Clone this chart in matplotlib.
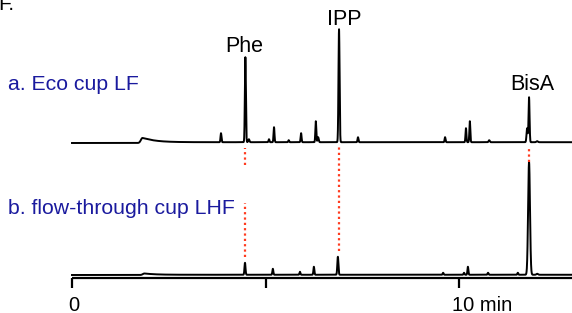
import numpy as np
import matplotlib.pyplot as plt

plt.rcParams['font.family'] = ['Liberation Sans', 'DejaVu Sans']

# retention times (min), peak heights (arbitrary, px-like units), widths (min)
a_times = [3.85, 4.48, 4.57, 5.09, 5.22, 5.60, 5.92, 6.30, 6.36, 6.90, 7.39, 9.64, 10.18, 10.28, 10.78, 11.76, 11.81, 12.02]
a_heights = [9, 85, 3, 3, 15, 2, 9, 21, 5, 113, 5, 5, 14, 21, 2, 14, 45, 1]
a_widths = [0.012, 0.013, 0.015, 0.012, 0.012, 0.012, 0.012, 0.012, 0.015, 0.014, 0.012, 0.012, 0.012, 0.012, 0.015, 0.015, 0.013, 0.02]

b_times = [4.47, 5.19, 5.89, 6.25, 6.87, 9.59, 10.13, 10.23, 10.75, 11.52, 11.81, 12.02]
b_heights = [12, 6, 3, 8, 18, 2, 2, 8, 2, 2, 113, 1]
b_widths = [0.013, 0.012, 0.012, 0.012, 0.014, 0.012, 0.012, 0.012, 0.012, 0.012, 0.024, 0.02]

# solvent hump near 1.8 min
a_hump = (1.82, 5.0, 0.3)   # time, height, decay
b_hump = (1.87, 1.5, 0.25)

labeled = ['Phe', 'IPP', 'BisA']
labeled_times = [4.48, 6.90, 11.81]
trace_names = ['a. Eco cup LF', 'b. flow-through cup LHF']
tick_times = [0, 5, 10]
tick_labels = ['0', '', '10 min']

t = np.linspace(0, 12.92, 6000)
px = 1 / 38.7  # one pixel in minutes


def trace(times, heights, widths, hump):
    y = np.zeros_like(t)
    for tm, h, w in zip(times, heights, widths):
        y += h * np.exp(-0.5 * ((t - tm) / w) ** 2)
    t0, h0, tau = hump
    rise = np.exp(-0.5 * ((t - t0) / 0.04) ** 2)
    tail = np.where(t > t0, np.exp(-(t - t0) / tau), 0)
    y += h0 * np.maximum(rise, tail) + np.where(t > t0, 0.8 * h0 / 5, 0) * (1 - np.exp(-(t - t0).clip(0) / 0.1))
    return y


ya = trace(a_times, a_heights, a_widths, a_hump)
yb = trace(b_times, b_heights, b_widths, b_hump)

fig = plt.figure(figsize=(5.72, 3.13), dpi=100)
ax = fig.add_axes([0, 0, 1, 1])
ax.set_xlim(-72 * px, 500 * px)
ax.set_ylim(0, 313)
ax.axis('off')

base_a, base_b, axis_y = 170, 38, 35
ax.plot(t, ya + base_a, color='black', lw=1.4, solid_joinstyle='round')
ax.plot(t, yb + base_b, color='black', lw=1.4, solid_joinstyle='round')

# dotted guide lines between the traces
red = '#ff3b1f'
dots = dict(color=red, lw=1.6, linestyle=(0, (1, 1.4)))
ax.plot([labeled_times[0]] * 2, [148, 165], **dots)
ax.plot([labeled_times[0]] * 2, [56, 110], **dots)
ax.plot([labeled_times[1]] * 2, [62, 166], **dots)
ax.plot([labeled_times[2]] * 2, [151, 166], **dots)

# peak labels
label_y = [261, 288, 223]
label_dx = [-1, 5, 3]
for name, tm, ly, dx in zip(labeled, labeled_times, label_y, label_dx):
    ax.text(tm + dx * px, ly, name, ha='center', va='baseline', fontsize=15.5)

blue = '#1a1a9e'
ax.text(-64 * px, 229, trace_names[0], color=blue, fontsize=15.3, va='center')
ax.text(-64 * px, 105, trace_names[1], color=blue, fontsize=15.3, va='center')
ax.text(-74 * px, 303, 'F.', fontsize=15, va='baseline')

# time axis
ax.plot([0, 12.92], [axis_y, axis_y], color='black', lw=1.6, solid_capstyle='butt')
for tm, lab in zip(tick_times, tick_labels):
    ax.plot([tm, tm], [axis_y, axis_y - 10], color='black', lw=1.6, solid_capstyle='butt')
    if lab == '0':
        ax.text(tm + 1.5 * px, 2, lab, ha='center', va='baseline', fontsize=14.5)
    elif lab:
        ax.text(tm - 7 * px, 2, lab, ha='left', va='baseline', fontsize=14.5)

fig.savefig('out.png', dpi=100)
